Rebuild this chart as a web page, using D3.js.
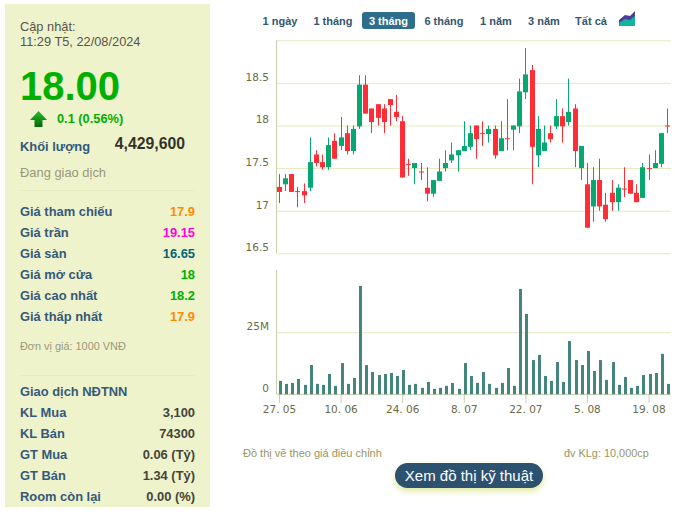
<!DOCTYPE html>
<html>
<head>
<meta charset="utf-8">
<script src="https://cdnjs.cloudflare.com/ajax/libs/d3/7.8.5/d3.min.js"></script>
<style>
  html, body { margin: 0; padding: 0; background: #fff; }
  svg { display: block; }
  text { font-family: "Liberation Sans", Arial, sans-serif; }
</style>
</head>
<body>
<svg width="674" height="515"></svg>
<script>
let dates = [
  '27.05','28.05','29.05','30.05','31.05','03.06','04.06','05.06','06.06','07.06',
  '10.06','11.06','12.06','13.06','14.06','17.06','18.06','19.06','20.06','21.06',
  '24.06','25.06','26.06','27.06','28.06','01.07','02.07','03.07','04.07','05.07',
  '08.07','09.07','10.07','11.07','12.07','15.07','16.07','17.07','18.07','19.07',
  '22.07','23.07','24.07','25.07','26.07','29.07','30.07','31.07','01.08','02.08',
  '05.08','06.08','07.08','08.08','09.08','12.08','13.08','14.08','15.08','16.08',
  '19.08','20.08','21.08','22.08'
];
let opens = [
  17.28,17.31,17.43,17.23,17.23,17.27,17.66,17.57,17.51,17.82,
  17.76,17.91,17.70,17.99,18.48,18.20,18.25,18.20,18.31,18.16,
  18.05,17.55,17.50,17.46,17.27,17.20,17.35,17.50,17.59,17.65,
  17.70,17.75,18.00,17.91,17.90,17.96,17.70,17.85,17.95,17.99,
  18.39,18.65,17.65,17.70,17.91,17.99,18.11,18.04,18.20,17.50,
  17.31,17.05,17.36,17.07,17.21,17.10,17.26,17.36,17.21,17.15,
  17.50,17.50,17.55,18.00
];
let highs = [
  17.43,17.43,17.43,17.28,17.32,17.86,17.71,17.66,17.86,17.91,
  18.10,18.00,18.00,18.59,18.59,18.20,18.25,18.25,18.31,18.36,
  18.11,17.61,17.56,17.56,17.51,17.36,17.61,17.71,17.80,17.71,
  18.05,18.00,18.00,18.05,18.00,18.00,18.05,18.31,18.00,18.55,
  18.91,18.71,18.11,18.00,18.00,18.31,18.20,18.55,18.25,17.76,
  17.56,17.51,17.61,17.21,17.36,17.31,17.51,17.36,17.31,17.56,
  17.66,17.71,17.91,18.20
];
let lows = [
  17.09,17.23,17.22,17.04,17.09,17.23,17.52,17.48,17.48,17.61,
  17.71,17.66,17.66,17.96,18.14,17.91,18.00,17.91,18.00,18.05,
  17.39,17.41,17.31,17.36,17.11,17.16,17.35,17.46,17.56,17.46,
  17.70,17.71,17.61,17.76,17.80,17.61,17.70,17.71,17.71,17.91,
  18.31,17.31,17.51,17.70,17.80,17.96,17.80,18.00,17.51,17.36,
  16.80,16.87,17.00,16.87,17.00,17.00,17.16,17.20,17.10,17.15,
  17.36,17.50,17.51,17.91
];
let closes = [
  17.22,17.38,17.22,17.23,17.18,17.57,17.56,17.51,17.77,17.61,
  17.86,17.70,17.96,18.48,18.14,18.04,18.09,18.04,18.24,18.10,
  17.39,17.55,17.56,17.46,17.20,17.36,17.46,17.56,17.66,17.71,
  17.76,17.91,17.84,17.91,17.96,17.65,17.85,17.85,18.00,18.40,
  18.60,17.75,17.96,17.80,17.84,18.11,17.99,18.16,17.70,17.76,
  16.80,17.36,17.05,16.90,17.10,17.27,17.26,17.20,17.10,17.51,
  17.50,17.56,17.91,18.00
];
let volumes = [
  5.4,4.2,4.6,6.2,3.8,11.8,4.2,3.8,8.2,3.4,
  12.6,4.2,6.6,43.7,11.8,9.0,7.8,8.2,8.6,7.4,
  9.8,3.8,4.2,2.6,5.0,2.2,2.6,3.4,4.6,2.2,
  12.6,7.4,4.6,9.0,4.2,2.6,4.6,10.6,3.4,42.5,
  32.4,13.8,15.9,7.4,5.4,13.0,5.0,21.5,13.8,11.8,
  17.5,9.4,13.8,5.8,13.0,3.8,7.0,2.6,3.4,7.8,
  8.2,8.6,16.3,4.2
];
let priceTicks = [19, 18.5, 18, 17.5, 17, 16.5];
let priceLabels = ['', '18.5', '18', '17.5', '17', '16.5'];
let volumeTicks = [0, 25];
let volumeLabels = ['0', '25M'];
let dateTicks = ['27.05','10.06','24.06','08.07','22.07','05.08','19.08'];
let dateLabels = ['27. 05','10. 06','24. 06','8. 07','22. 07','5. 08','19. 08'];
let ranges = ['1 ngày','1 tháng','3 tháng','6 tháng','1 năm','3 năm','Tất cả'];
let priceRows = ['Giá tham chiếu','Giá trần','Giá sàn','Giá mở cửa','Giá cao nhất','Giá thấp nhất'];
let priceValues = ['17.9','19.15','16.65','18','18.2','17.9'];
let foreignRows = ['KL Mua','KL Bán','GT Mua','GT Bán','Room còn lại'];
let foreignValues = ['3,100','74300','0.06 (Tỷ)','1.34 (Tỷ)','0.00 (%)'];

let svg = d3.select('svg');
let green = '#05a870';
let red = '#ff2e36';
let gridColor = '#e6e6bc';
let axisColor = '#c9cfae';
let labelColor = '#6b6a45';
let navy = '#34597a';

let addText = (x, y, str, size, color, weight, anchor) => {
  return svg.append('text')
    .attr('x', x)
    .attr('y', y)
    .attr('font-size', size)
    .attr('fill', color)
    .attr('font-weight', weight || 'normal')
    .attr('text-anchor', anchor || 'start')
    .text(str);
}

// left panel
let drawPanel = () => {
  svg.append('rect')
    .attr('x', 5).attr('y', 4)
    .attr('width', 205).attr('height', 503)
    .attr('fill', '#eff3cc');

  addText(20, 31, 'Cập nhật:', 12.8, '#55554a');
  addText(20, 46, '11:29 T5, 22/08/2024', 12.8, '#55554a');
  addText(20, 100, '18.00', 40, '#00b000', 'bold');

  let grad = svg.append('defs').append('linearGradient')
    .attr('id', 'arrow').attr('x1', 0).attr('x2', 0).attr('y1', 0).attr('y2', 1);
  grad.append('stop').attr('offset', '0%').attr('stop-color', '#22c02a');
  grad.append('stop').attr('offset', '100%').attr('stop-color', '#07660c');
  svg.append('path')
    .attr('d', 'M38.5 111 L47 120 L42.5 120 L42.5 127 L34.5 127 L34.5 120 L30 120 Z')
    .attr('fill', 'url(#arrow)');
  addText(57, 123, '0.1 (0.56%)', 12.8, '#00b000', 'bold');
  addText(20, 151, 'Khối lượng', 12.9, navy, 'bold');
  addText(185, 149, '4,429,600', 15.8, '#33332a', 'bold', 'end');
  addText(20, 177, 'Đang giao dịch', 12.9, '#99987a');

  svg.append('line')
    .attr('x1', 20).attr('x2', 195).attr('y1', 190.5).attr('y2', 190.5)
    .attr('stroke', '#e6ebc0');

  let valueColors = ['#ff8c00', '#ff00dd', '#00667a', '#00b000', '#00b000', '#ff8c00'];
  priceRows.forEach((row, i) => {
    let y = 216 + i * 21;
    addText(20, y, row, 12.9, navy, 'bold');
    addText(195, y, priceValues[i], 12.9, valueColors[i], 'bold', 'end');
  });
  addText(20, 350, 'Đơn vị giá: 1000 VNĐ', 10.9, '#99987a');

  svg.append('line')
    .attr('x1', 20).attr('x2', 195).attr('y1', 375.5).attr('y2', 375.5)
    .attr('stroke', '#e6ebc0');

  addText(20, 396, 'Giao dịch NĐTNN', 12.9, navy, 'bold');
  foreignRows.forEach((row, i) => {
    let y = 417 + i * 21;
    addText(20, y, row, 12.9, navy, 'bold');
    addText(195, y, foreignValues[i], 12.9, '#44443a', 'bold', 'end');
  });
}

// range buttons above the chart
let drawButtons = () => {
  let centers = [280, 333, 388.5, 444, 496, 544, 591];
  svg.append('rect')
    .attr('x', 362).attr('y', 12)
    .attr('width', 53).attr('height', 17)
    .attr('rx', 3)
    .attr('fill', '#2f6d8c');
  ranges.forEach((r, i) => {
    addText(centers[i], 24.5, r, 11, i == 2 ? '#ffffff' : '#34566f', 'bold', 'middle');
  });
  svg.append('path')
    .attr('d', 'M619 26 L619 20 L625 15 L630 16 L635 11 L635 26 Z')
    .attr('fill', '#4b3f97');
  svg.append('path')
    .attr('d', 'M619 26 L619 23 L625 19 L630 20 L635 16 L635 26 Z')
    .attr('fill', '#12b5a0');
}

let xScale = d3.scalePoint().domain(dates).range([279, 667]);
let yScale = d3.scaleLinear().domain([16.5, 19]).range([253.3, 40.3]);
let volScale = d3.scaleLinear().domain([0, 25]).range([394.3, 332.3]);

let setAxes = () => {
  let priceAxis = d3.axisLeft(yScale)
    .tickValues(priceTicks)
    .tickSize(-394)
    .tickPadding(8)
    .tickFormat((d, i) => priceLabels[i]);
  let volAxis = d3.axisLeft(volScale)
    .tickValues(volumeTicks)
    .tickSize(-394)
    .tickPadding(8)
    .tickFormat((d, i) => volumeLabels[i]);
  let dateAxis = d3.axisBottom(xScale)
    .tickValues(dateTicks)
    .tickSize(9)
    .tickPadding(3)
    .tickFormat((d, i) => dateLabels[i]);

  let gPrice = svg.append('g').attr('transform', 'translate(277, 0)').call(priceAxis);
  let gVol = svg.append('g').attr('transform', 'translate(277, 0)').call(volAxis);
  let gDate = svg.append('g').attr('transform', 'translate(0, 394)').call(dateAxis);

  [gPrice, gVol, gDate].forEach(g => {
    g.select('.domain').remove();
    g.selectAll('text')
      .style('font-family', '"DejaVu Sans", Verdana, sans-serif')
      .attr('font-size', 10.5)
      .attr('fill', labelColor);
  });
  [gPrice, gVol].forEach(g => {
    g.selectAll('line').attr('stroke', gridColor).attr('stroke-width', 1);
    g.selectAll('text').attr('y', -6);
  });
  gDate.selectAll('line').attr('stroke', axisColor);

  // left axis line and volume baseline
  svg.append('line')
    .attr('x1', 276.5).attr('x2', 276.5)
    .attr('y1', yScale(19)).attr('y2', yScale(16.5))
    .attr('stroke', axisColor);
  svg.append('line')
    .attr('x1', 276.5).attr('x2', 276.5)
    .attr('y1', 270).attr('y2', volScale(0))
    .attr('stroke', axisColor);
  svg.append('line')
    .attr('x1', 277).attr('x2', 671)
    .attr('y1', volScale(0)).attr('y2', volScale(0))
    .attr('stroke', axisColor);
}

let setCandles = () => {
  let colorOf = i => closes[i] > opens[i] ? green : red;
  let g = svg.append('g');

  g.selectAll('.wick')
    .data(dates)
    .enter()
    .append('line')
    .attr('class', 'wick')
    .attr('x1', d => Math.round(xScale(d)) + 0.5)
    .attr('x2', d => Math.round(xScale(d)) + 0.5)
    .attr('y1', (d, i) => yScale(highs[i]))
    .attr('y2', (d, i) => yScale(lows[i]))
    .attr('stroke', (d, i) => colorOf(i))
    .attr('stroke-width', 1);

  g.selectAll('.body')
    .data(dates)
    .enter()
    .append('rect')
    .attr('class', 'body')
    .attr('x', d => Math.round(xScale(d)) - 2)
    .attr('width', 5)
    .attr('y', (d, i) => yScale(Math.max(opens[i], closes[i])))
    .attr('height', (d, i) => Math.max(1, Math.abs(yScale(opens[i]) - yScale(closes[i]))))
    .attr('fill', (d, i) => colorOf(i));
}

let setVolumes = () => {
  svg.append('g')
    .selectAll('rect')
    .data(dates)
    .enter()
    .append('rect')
    .attr('x', d => Math.round(xScale(d)))
    .attr('width', 3)
    .attr('y', (d, i) => volScale(volumes[i]))
    .attr('height', (d, i) => volScale(0) - volScale(volumes[i]))
    .attr('fill', '#44857f');
}

let drawFooter = () => {
  addText(243, 457, 'Đồ thị vẽ theo giá điều chỉnh', 11, '#99965f');
  addText(564, 457, 'đv KLg: 10,000cp', 10.9, '#99965f');

  let defs = svg.append('defs');
  let blur = defs.append('filter').attr('id', 'glow')
    .attr('x', '-20%').attr('y', '-40%').attr('width', '140%').attr('height', '200%');
  blur.append('feGaussianBlur').attr('stdDeviation', 3);

  svg.append('rect')
    .attr('x', 395).attr('y', 466)
    .attr('width', 148).attr('height', 25)
    .attr('rx', 12.5)
    .attr('fill', '#dfe89a')
    .attr('filter', 'url(#glow)');
  svg.append('rect')
    .attr('x', 395).attr('y', 463)
    .attr('width', 148).attr('height', 25)
    .attr('rx', 12.5)
    .attr('fill', '#2c5270');
  addText(469, 481, 'Xem đồ thị kỹ thuật', 15, '#ffffff', 'normal', 'middle');
}

drawPanel();
drawButtons();
setAxes();
setVolumes();
setCandles();
drawFooter();
</script>
</body>
</html>
